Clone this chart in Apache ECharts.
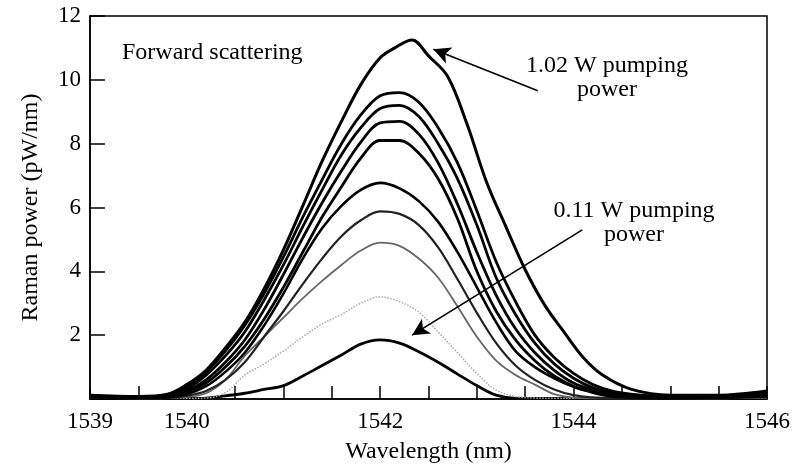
<!DOCTYPE html>
<html><head><meta charset="utf-8">
<script src="https://cdn.jsdelivr.net/npm/echarts@6/dist/echarts.min.js"></script>
<style>html,body{margin:0;padding:0;background:#fff}#c{width:803px;height:470px}</style>
</head><body><div id="c"></div>
<script>
// shared wavelength grid (nm)
const wavelengths = [1539,1539.5,1539.8,1540,1540.2,1540.4,1540.6,1540.8,1541,1541.2,1541.4,1541.6,1541.8,1542,1542.2,1542.4,1542.6,1542.8,1543,1543.2,1543.4,1543.6,1543.8,1544,1544.2,1544.4,1544.7,1545,1545.5,1546];
// wavelength grid for the 1.02 W curve (peak is shifted)
const wavelengthsTop = [1539,1539.5,1539.8,1540,1540.2,1540.4,1540.6,1540.8,1541,1541.2,1541.4,1541.6,1541.8,1542,1542.15,1542.33,1542.5,1542.7,1542.9,1543.1,1543.3,1543.5,1543.7,1543.9,1544.1,1544.3,1544.6,1545,1545.5,1546];

// Raman power (pW/nm)
const curve1 = [0.12,0.08,0.15,0.45,0.9,1.6,2.4,3.45,4.67,6.05,7.45,8.7,9.85,10.69,11.0,11.25,10.75,10.1,8.6,6.8,5.4,4.05,2.95,2.1,1.3,0.75,0.3,0.12,0.12,0.25];
const curve2 = [0.1,0.06,0.12,0.38,0.85,1.5,2.3,3.3,4.45,5.7,6.87,8.0,8.9,9.5,9.6,9.3,8.5,7.4,5.9,4.3,3.05,2.0,1.3,0.8,0.45,0.25,0.12,0.08,0.1,0.2];
const curve3 = [0.1,0.05,0.1,0.32,0.75,1.35,2.1,3.1,4.2,5.4,6.55,7.65,8.5,9.1,9.2,8.85,8.0,6.9,5.45,3.8,2.65,1.75,1.1,0.65,0.35,0.2,0.1,0.06,0.08,0.16];
const curve4 = [0.08,0.05,0.08,0.25,0.6,1.15,1.85,2.8,3.9,5.05,6.15,7.15,8.05,8.65,8.7,8.3,7.4,6.1,4.6,3.25,2.2,1.45,0.9,0.5,0.28,0.15,0.08,0.05,0.06,0.12];
const curve5 = [0.08,0.04,0.06,0.2,0.5,1.0,1.65,2.5,3.5,4.6,5.7,6.65,7.55,8.1,8.1,7.7,6.9,5.65,4.0,2.75,1.85,1.2,0.72,0.4,0.22,0.12,0.06,0.04,0.05,0.1];
const curve6 = [0.06,0.03,0.05,0.15,0.4,0.85,1.45,2.3,3.3,4.4,5.35,6.05,6.55,6.77,6.6,6.2,5.55,4.6,3.5,2.4,1.5,1.0,0.65,0.38,0.2,0.08,0.03,0.02,0.04,0.08];
const curve7 = [0.05,0.03,0.04,0.1,0.25,0.6,1.15,1.95,2.75,3.6,4.4,5.1,5.6,5.88,5.8,5.45,4.75,3.75,2.7,1.75,1.05,0.6,0.3,0.12,0.05,0.03,0.02,0.02,0.03,0.06];
const curve8 = [0.04,0.02,0.03,0.06,0.18,0.6,1.35,1.95,2.55,3.15,3.7,4.2,4.65,4.9,4.8,4.4,3.8,2.9,1.95,1.2,0.75,0.45,0.15,0.04,0.02,0.02,0.02,0.02,0.02,0.04];
const curve9 = [0.03,0.02,0.02,0.02,0.03,0.2,0.75,1.1,1.5,1.95,2.35,2.65,3.0,3.2,3.05,2.72,2.1,1.45,0.8,0.28,0.08,0.03,0.02,0.02,0.02,0.02,0.02,0.02,0.02,0.02];
const curve10 = [0.02,0.02,0.02,0.02,0.03,0.1,0.18,0.3,0.42,0.72,1.05,1.38,1.72,1.85,1.75,1.48,1.15,0.78,0.42,0.12,0.02,0.02,0.02,0.02,0.02,0.02,0.02,0.02,0.02,0.02];

const xTickLabels = [1539,1540,1542,1544,1546];
const yTickLabels = [2,4,6,8,10,12];

const FONT = '"Liberation Serif","Times New Roman",serif';

const curves = [
  {x: wavelengthsTop, y: curve1, color:'#000', width:3, type:'solid'},
  {x: wavelengths, y: curve2, color:'#000', width:2.8, type:'solid'},
  {x: wavelengths, y: curve3, color:'#000', width:2.8, type:'solid'},
  {x: wavelengths, y: curve4, color:'#000', width:2.8, type:'solid'},
  {x: wavelengths, y: curve5, color:'#000', width:2.8, type:'solid'},
  {x: wavelengths, y: curve6, color:'#000', width:2.6, type:'solid'},
  {x: wavelengths, y: curve7, color:'#222', width:2.2, type:'solid'},
  {x: wavelengths, y: curve8, color:'#666', width:1.8, type:'solid'},
  {x: wavelengths, y: curve9, color:'#aaa', width:1.5, type:'dotted'},
  {x: wavelengths, y: curve10, color:'#000', width:2.8, type:'solid'}
];

const series = curves.map((c, i) => ({
  type: 'line',
  data: c.x.map((w, k) => [w, c.y[k]]),
  smooth: 0.35,
  showSymbol: false,
  lineStyle: {color: c.color, width: c.width, type: c.type},
  z: 10 - i
}));

// annotation arrows (data coordinates)
series.push({
  type: 'line', data: [], silent: true,
  markLine: {
    silent: true,
    symbol: ['none', 'arrow'],
    symbolSize: [13, 17],
    label: {show: false},
    lineStyle: {color: '#000', width: 1.6, type: 'solid'},
    emphasis: {disabled: true},
    data: [
      [{coord: [1543.63, 9.66]}, {coord: [1542.55, 10.96]}],
      [{coord: [1544.09, 5.30]}, {coord: [1542.33, 2.0]}]
    ]
  }
});

const chart = echarts.init(document.getElementById('c'), null, {renderer: 'canvas'});
chart.setOption({
  animation: false,
  backgroundColor: '#fff',
  grid: {left: 90, right: 36, top: 16, bottom: 71, show: true, borderColor: '#000', borderWidth: 1.5, backgroundColor: 'transparent'},
  xAxis: {
    type: 'value', min: 1539, max: 1546, interval: 0.5,
    name: 'Wavelength (nm)', nameLocation: 'middle', nameGap: 41,
    nameTextStyle: {fontFamily: FONT, fontSize: 24, color: '#000'},
    axisLine: {lineStyle: {color: '#000', width: 1.5}},
    axisTick: {inside: true, length: 13, lineStyle: {color: '#000', width: 1.5}},
    axisLabel: {
      fontFamily: FONT, fontSize: 23, color: '#000', margin: 11,
      formatter: v => xTickLabels.includes(Math.round(v * 10) / 10) ? String(v) : ''
    },
    splitLine: {show: false}
  },
  yAxis: {
    type: 'value', min: 0, max: 12, interval: 2,
    name: 'Raman power (pW/nm)', nameLocation: 'middle', nameGap: 47, nameRotate: 90,
    nameTextStyle: {fontFamily: FONT, fontSize: 24, color: '#000'},
    axisLine: {show: true, lineStyle: {color: '#000', width: 1.5}},
    axisTick: {inside: true, length: 15, lineStyle: {color: '#000', width: 1.5}},
    axisLabel: {
      fontFamily: FONT, fontSize: 23, color: '#000', margin: 9,
      formatter: v => yTickLabels.includes(v) ? String(v) : ''
    },
    splitLine: {show: false}
  },
  series: series,
  graphic: [
    {type: 'text', left: 122, top: 41, style: {text: 'Forward scattering', font: '24px ' + FONT, fill: '#000'}},
    {type: 'text', x: 607, y: 78, style: {text: '1.02 W pumping\npower', font: '24px ' + FONT, fill: '#000', align: 'center', verticalAlign: 'middle', lineHeight: 24}},
    {type: 'text', x: 634, y: 223, style: {text: '0.11 W pumping\npower', font: '24px ' + FONT, fill: '#000', align: 'center', verticalAlign: 'middle', lineHeight: 24}}
  ]
});
</script>
</body></html>
